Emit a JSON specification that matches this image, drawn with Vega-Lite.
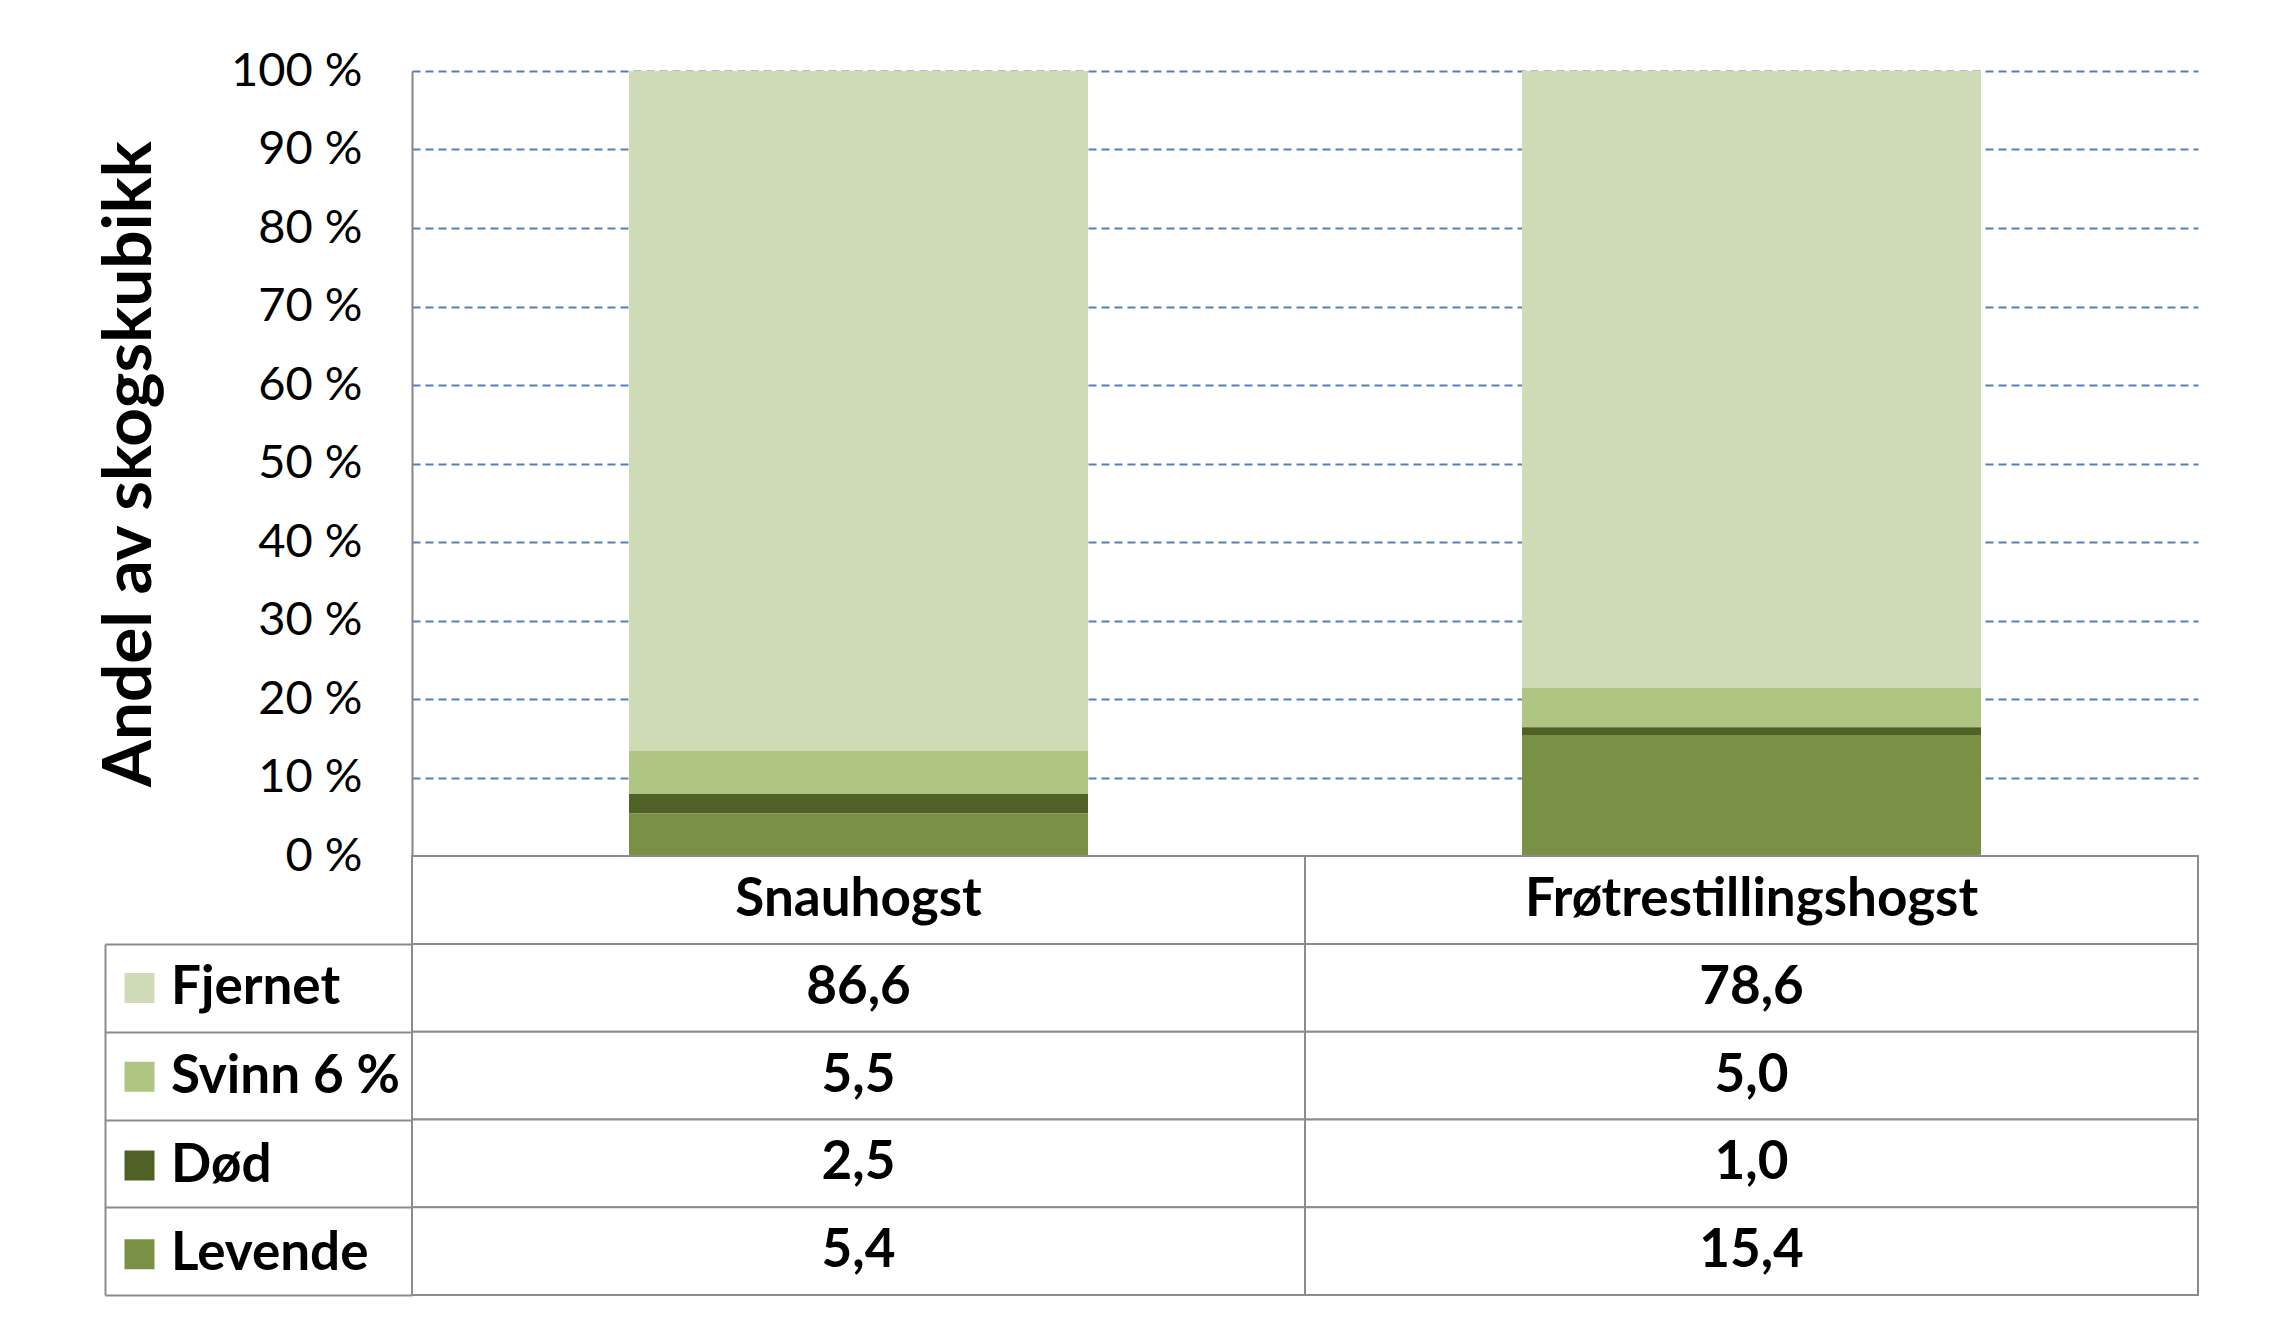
{
  "$schema": "https://vega.github.io/schema/vega-lite/v6.json",
  "background": "white",
  "padding": {"left": 96, "top": 47, "right": 10, "bottom": 10},
  "datasets": {
    "rows": [
      {"cat": "Snauhogst", "series": "Fjernet", "value": 86.6},
      {"cat": "Snauhogst", "series": "Svinn 6 %", "value": 5.5},
      {"cat": "Snauhogst", "series": "Død", "value": 2.5},
      {"cat": "Snauhogst", "series": "Levende", "value": 5.4},
      {"cat": "Frøtrestillingshogst", "series": "Fjernet", "value": 78.6},
      {"cat": "Frøtrestillingshogst", "series": "Svinn 6 %", "value": 5.0},
      {"cat": "Frøtrestillingshogst", "series": "Død", "value": 1.0},
      {"cat": "Frøtrestillingshogst", "series": "Levende", "value": 15.4}
    ]
  },
  "spacing": 0,
  "bounds": "flush",
  "vconcat": [
    {
      "width": 1786,
      "height": 785,
      "data": {"name": "rows"},
      "transform": [
        {"calculate": "indexof(['Levende','Død','Svinn 6 %','Fjernet'], datum.series)", "as": "ord"}
      ],
      "mark": {"type": "bar", "width": {"band": 0.514}},
      "encoding": {
        "x": {
          "field": "cat", "type": "nominal",
          "sort": ["Snauhogst", "Frøtrestillingshogst"],
          "scale": {"paddingInner": 0, "paddingOuter": 0},
          "axis": null
        },
        "y": {
          "field": "value", "type": "quantitative", "stack": "zero",
          "scale": {"domain": [0, 100], "nice": false},
          "axis": {
            "values": [0, 10, 20, 30, 40, 50, 60, 70, 80, 90, 100],
            "labelExpr": "datum.value + ' %'",
            "labelFont": "Lato", "labelFontSize": 47, "labelColor": "#000000",
            "labelPadding": 50,
            "ticks": false,
            "domain": true, "domainColor": "#868686", "domainWidth": 2,
            "grid": true, "gridColor": "#4F81BD", "gridDash": [8, 5], "gridWidth": 2,
            "title": "Andel av skogskubikk",
            "titleFont": "Lato", "titleFontSize": 67.5, "titleFontWeight": "bold",
            "titleColor": "#000000", "titlePadding": 66
          }
        },
        "color": {
          "field": "series", "type": "nominal",
          "scale": {
            "domain": ["Fjernet", "Svinn 6 %", "Død", "Levende"],
            "range": ["#CFDBB7", "#AFC584", "#4F6127", "#7A9145"]
          },
          "legend": {
            "orient": "none", "legendX": -299, "legendY": 890.5,
            "title": null, "padding": 0,
            "symbolType": "square", "symbolSize": 900, "symbolStrokeWidth": 0, "symbolOpacity": 1,
            "labelFont": "Lato", "labelFontSize": 53, "labelFontWeight": "bold", "labelColor": "#000000",
            "labelOffset": 5, "rowPadding": 34.75, "labelLimit": 400
          }
        },
        "order": {"field": "ord", "type": "quantitative"}
      }
    },
    {
      "width": 1786,
      "height": 88,
      "data": {"name": "rows"},
      "transform": [
        {"aggregate": [{"op": "count", "as": "n"}], "groupby": ["cat"]}
      ],
      "encoding": {
        "x": {
          "field": "cat", "type": "nominal",
          "sort": ["Snauhogst", "Frøtrestillingshogst"],
          "scale": {"paddingInner": 0, "paddingOuter": 0},
          "axis": null
        }
      },
      "layer": [
        {"mark": {"type": "rect", "fill": "white", "stroke": "#8C8C8C", "strokeWidth": 2}},
        {
          "mark": {"type": "text", "font": "Lato", "fontSize": 53, "fontWeight": "bold", "color": "#000000"},
          "encoding": {"text": {"field": "cat"}}
        }
      ]
    },
    {
      "width": 1786,
      "height": 351,
      "data": {"name": "rows"},
      "encoding": {
        "x": {
          "field": "cat", "type": "nominal",
          "sort": ["Snauhogst", "Frøtrestillingshogst"],
          "scale": {"paddingInner": 0, "paddingOuter": 0},
          "axis": null
        },
        "y": {
          "field": "series", "type": "nominal",
          "sort": ["Fjernet", "Svinn 6 %", "Død", "Levende"],
          "scale": {"paddingInner": 0, "paddingOuter": 0},
          "axis": {
            "orient": "left", "offset": 307, "tickSize": -307, "tickBand": "extent",
            "labels": false, "title": null, "grid": false,
            "domain": true, "domainColor": "#8C8C8C", "domainWidth": 2,
            "ticks": true, "tickColor": "#8C8C8C", "tickWidth": 2
          }
        }
      },
      "layer": [
        {"mark": {"type": "rect", "fill": "white", "stroke": "#8C8C8C", "strokeWidth": 2}},
        {
          "mark": {"type": "text", "font": "Lato", "fontSize": 53, "fontWeight": "bold", "color": "#000000"},
          "encoding": {"text": {"field": "value", "type": "quantitative", "format": ".1f"}}
        }
      ]
    }
  ],
  "config": {
    "view": {"stroke": null},
    "font": "Lato",
    "locale": {
      "number": {"decimal": ",", "thousands": " ", "grouping": [3], "currency": ["", " kr"]}
    }
  }
}
